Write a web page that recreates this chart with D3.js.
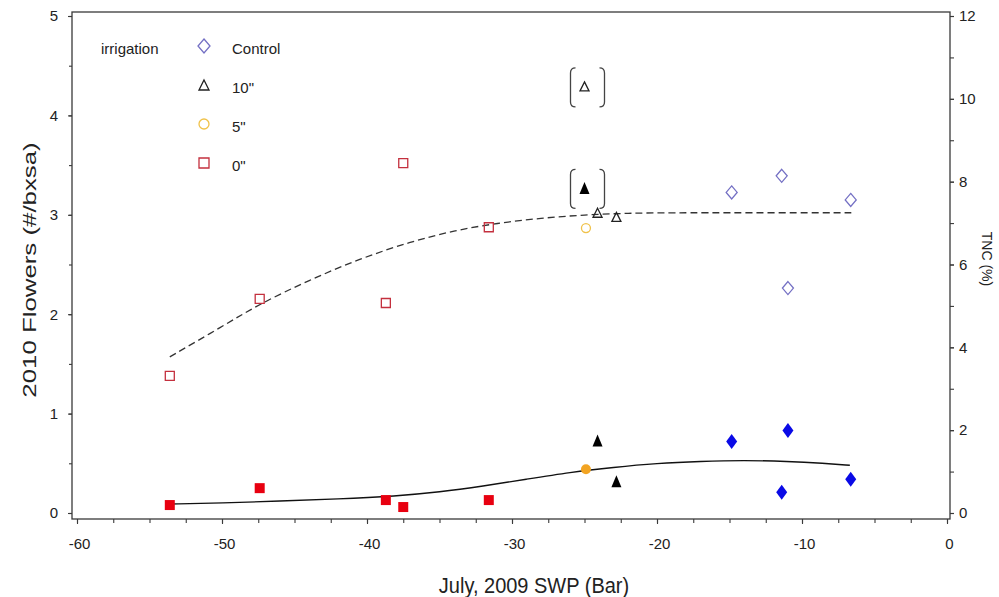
<!DOCTYPE html>
<html>
<head>
<meta charset="utf-8">
<script src="https://cdn.jsdelivr.net/npm/d3@7"></script>
<style>
  html, body { margin: 0; padding: 0; background: #fff; }
  svg { display: block; font-family: "Liberation Sans", Arial, sans-serif; }
</style>
</head>
<body>
<svg id="chart" width="999" height="597"></svg>
<script>
// ---- data: July 2009 stem water potential (bar) vs. 2010 flowers and TNC ----
const swp0   = [-53.6, -47.4, -38.7, -37.5, -31.6];   // 0" irrigation
const tnc0   = [3.31, 5.17, 5.07, 8.45, 6.90];
const flw0   = [0.08, 0.25, 0.13, 0.06, 0.13];

const swp5   = [-24.9];                               // 5" irrigation
const tnc5   = [6.88];
const flw5   = [0.44];

const swp10  = [-25.0, -24.1, -22.8];                 // 10" irrigation
const tnc10  = [10.3, 7.25, 7.15];
const flw10  = [3.27, 0.73, 0.32];
const out10  = [true, false, false];                  // bracketed outliers

const swpCtl = [-14.85, -11.4, -10.97, -6.64];        // Control
const tncCtl = [7.74, 8.14, 5.43, 7.56];
const flwCtl = [0.72, 0.21, 0.83, 0.34];

// fitted curves
const tncFitX = [-53.6, -50.0, -47.4, -44.0, -40.5, -37.0, -34.0, -31.0, -28.0, -25.0, -22.0, -19.0, -14.0, -6.6];
const tncFitY = [3.77, 4.50, 5.05, 5.62, 6.14, 6.55, 6.82, 7.00, 7.12, 7.20, 7.24, 7.25, 7.25, 7.25];
const flwFitX = [-53.6, -50.0, -46.0, -42.0, -38.0, -35.0, -32.0, -29.0, -26.0, -23.0, -20.0, -17.0, -14.0, -11.0, -8.5, -6.7];
const flwFitY = [0.09, 0.10, 0.12, 0.14, 0.17, 0.21, 0.27, 0.34, 0.41, 0.46, 0.50, 0.52, 0.53, 0.52, 0.50, 0.48];

// axes
const xTicks = [-60, -50, -40, -30, -20, -10, 0];
const yLeftTicks = [0, 1, 2, 3, 4, 5];
const yRightTicks = [0, 2, 4, 6, 8, 10, 12];

const legendTitle = "irrigation";
const legendLabels = ["Control", "10\"", "5\"", "0\""];

// ---- layout ----
const svg = d3.select("#chart");
const box = { left: 72, right: 950, top: 12, bottom: 519 };
const x  = d3.scaleLinear().domain([-60, 0]).range([77, 947]);
const yL = d3.scaleLinear().domain([0, 5]).range([513, 16]);
const yR = d3.scaleLinear().domain([0, 12]).range([513, 16]);

const axisColor = "#3a3a3a";
const textColor = "#222";
const plainNum = d => String(d);   // keeps an ASCII hyphen for negatives

// frame
svg.append("rect")
  .attr("x", box.left).attr("y", box.top)
  .attr("width", box.right - box.left).attr("height", box.bottom - box.top)
  .attr("fill", "none").attr("stroke", axisColor).attr("stroke-width", 1.3);

function styleAxis(g) {
  g.select(".domain").remove();
  g.selectAll(".tick line").attr("stroke", axisColor).attr("stroke-width", 1.1);
  g.selectAll(".tick text").attr("fill", textColor).attr("font-size", 15)
    .attr("font-family", "\"Liberation Sans\", Arial, sans-serif");
}

// bottom axis
svg.append("g").attr("transform", `translate(0,${box.bottom})`)
  .call(d3.axisBottom(x).tickValues(d3.range(-60, 0.1, 2.5)).tickSize(4).tickFormat(""))
  .call(styleAxis);
svg.append("g").attr("transform", `translate(0,${box.bottom})`)
  .call(d3.axisBottom(x).tickValues(xTicks).tickSize(5).tickPadding(14).tickFormat(plainNum))
  .call(styleAxis)
  .selectAll(".tick text").attr("dx", 2);

// left axis
svg.append("g").attr("transform", `translate(${box.left},0)`)
  .call(d3.axisLeft(yL).tickValues(d3.range(0, 5.01, 0.5)).tickSize(3).tickFormat(""))
  .call(styleAxis);
svg.append("g").attr("transform", `translate(${box.left},0)`)
  .call(d3.axisLeft(yL).tickValues(yLeftTicks).tickSize(4).tickPadding(10).tickFormat(plainNum))
  .call(styleAxis);

// right axis
svg.append("g").attr("transform", `translate(${box.right},0)`)
  .call(d3.axisRight(yR).tickValues(d3.range(0, 12.01, 1)).tickSize(4).tickFormat(""))
  .call(styleAxis);
svg.append("g").attr("transform", `translate(${box.right},0)`)
  .call(d3.axisRight(yR).tickValues(yRightTicks).tickSize(4).tickPadding(5).tickFormat(plainNum))
  .call(styleAxis);

// axis titles
svg.append("text")
  .attr("transform", "translate(534,585) scale(1,1.12)")
  .attr("text-anchor", "middle").attr("dominant-baseline", "central")
  .attr("font-size", 20).attr("fill", textColor)
  .text("July, 2009 SWP (Bar)");
svg.append("text")
  .attr("transform", "translate(29,270) rotate(-90) scale(1.36,1)")
  .attr("text-anchor", "middle").attr("dominant-baseline", "central")
  .attr("font-size", 19).attr("fill", textColor)
  .text("2010 Flowers (#/bxsa)");
svg.append("text")
  .attr("transform", "translate(987,259) rotate(90)")
  .attr("text-anchor", "middle").attr("dominant-baseline", "central")
  .attr("font-size", 14).attr("fill", textColor)
  .text("TNC (%)");

// ---- fitted curves ----
const curveLine = (xs, ys, yScale) =>
  d3.line().x((d, i) => x(xs[i])).y((d, i) => yScale(ys[i])).curve(d3.curveBasis)(xs);

svg.append("path").attr("d", curveLine(tncFitX, tncFitY, yR))
  .attr("fill", "none").attr("stroke", "#333").attr("stroke-width", 1.3)
  .attr("stroke-dasharray", "7,4");
svg.append("path").attr("d", curveLine(flwFitX, flwFitY, yL))
  .attr("fill", "none").attr("stroke", "#111").attr("stroke-width", 1.4);

// ---- marker shapes ----
const shapes = {
  square:   (w, h) => `M${-w/2},${-h/2}h${w}v${h}h${-w}Z`,
  diamond:  (w, h) => `M0,${-h/2}L${w/2},0L0,${h/2}L${-w/2},0Z`,
  triangle: (w, h) => `M0,${-h/2}L${w/2},${h/2}L${-w/2},${h/2}Z`,
  circle:   (w)    => d3.arc()({ innerRadius: 0, outerRadius: w/2, startAngle: 0, endAngle: 2*Math.PI })
};

const openStyle = {
  square:   { shape: "square",   w: 9,  h: 9,  stroke: "#c4303e" },
  diamond:  { shape: "diamond",  w: 11, h: 13, stroke: "#7470c4" },
  triangle: { shape: "triangle", w: 9,  h: 9,  stroke: "#222" },
  circle:   { shape: "circle",   w: 9,  h: 9,  stroke: "#f0c24a" }
};
const filledStyle = {
  square:   { shape: "square",   w: 10, h: 10, fill: "#e80010" },
  diamond:  { shape: "diamond",  w: 11, h: 15, fill: "#0a0ae6" },
  triangle: { shape: "triangle", w: 10, h: 12, fill: "#000" },
  circle:   { shape: "circle",   w: 10, h: 10, fill: "#f2a422" }
};

function drawOpen(xs, ys, yScale, st) {
  svg.append("g").selectAll("path").data(xs).join("path")
    .attr("transform", (d, i) => `translate(${x(d)},${yScale(ys[i])})`)
    .attr("d", shapes[st.shape](st.w, st.h))
    .attr("fill", "none").attr("stroke", st.stroke).attr("stroke-width", 1.3);
}
function drawFilled(xs, ys, yScale, st) {
  svg.append("g").selectAll("path").data(xs).join("path")
    .attr("transform", (d, i) => `translate(${x(d)},${yScale(ys[i])})`)
    .attr("d", shapes[st.shape](st.w, st.h))
    .attr("fill", st.fill);
}

// TNC (open markers, right axis)
drawOpen(swp0,   tnc0,   yR, openStyle.square);
drawOpen(swp5,   tnc5,   yR, openStyle.circle);
drawOpen(swp10,  tnc10,  yR, openStyle.triangle);
drawOpen(swpCtl, tncCtl, yR, openStyle.diamond);

// Flowers (filled markers, left axis)
drawFilled(swp0,   flw0,   yL, filledStyle.square);
drawFilled(swp5,   flw5,   yL, filledStyle.circle);
drawFilled(swp10,  flw10,  yL, filledStyle.triangle);
drawFilled(swpCtl, flwCtl, yL, filledStyle.diamond);

// brackets around the outlying 10" values
function bracket(cx, cy) {
  const hw = 17, hh = 19.5, r = 5;
  const left  = `M${cx - hw + r},${cy - hh}Q${cx - hw},${cy - hh} ${cx - hw},${cy - hh + r}V${cy + hh - r}Q${cx - hw},${cy + hh} ${cx - hw + r},${cy + hh}`;
  const right = `M${cx + hw - r},${cy - hh}Q${cx + hw},${cy - hh} ${cx + hw},${cy - hh + r}V${cy + hh - r}Q${cx + hw},${cy + hh} ${cx + hw - r},${cy + hh}`;
  return left + right;
}
swp10.forEach((s, i) => {
  if (!out10[i]) return;
  [[tnc10[i], yR], [flw10[i], yL]].forEach(([v, sc]) => {
    svg.append("path").attr("d", bracket(x(s) + 3, sc(v) + 1))
      .attr("fill", "none").attr("stroke", "#444").attr("stroke-width", 1.3);
  });
});

// ---- legend ----
const legend = svg.append("g");
legend.append("text").attr("x", 101).attr("y", 48)
  .attr("dominant-baseline", "central").attr("font-size", 15).attr("fill", textColor)
  .text(legendTitle);
const legendStyles = [openStyle.diamond, openStyle.triangle, openStyle.circle, openStyle.square];
const legendRowY = [46, 85, 124, 163];
legendLabels.forEach((lab, i) => {
  const st = legendStyles[i];
  legend.append("path")
    .attr("transform", `translate(204,${legendRowY[i]})`)
    .attr("d", shapes[st.shape](st.w + 1, st.h + 1))
    .attr("fill", "none").attr("stroke", st.stroke).attr("stroke-width", 1.3);
  legend.append("text").attr("x", 232).attr("y", legendRowY[i] + 2)
    .attr("dominant-baseline", "central").attr("font-size", 15).attr("fill", textColor)
    .text(lab);
});
</script>
</body>
</html>
